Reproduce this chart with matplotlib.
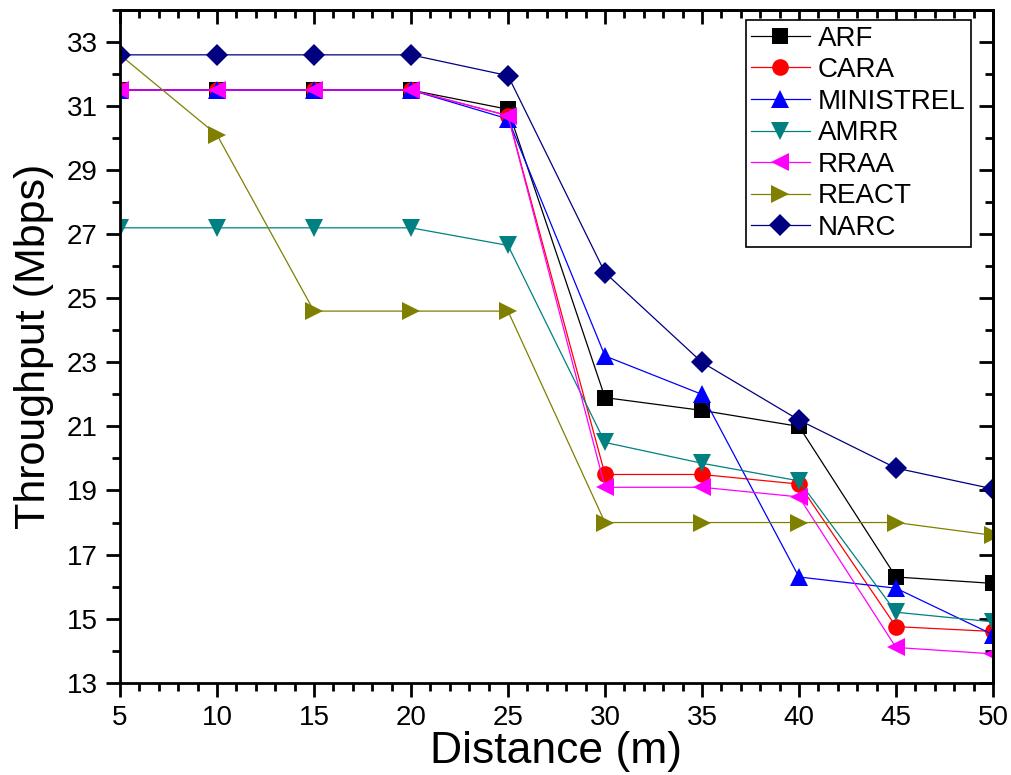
import matplotlib
matplotlib.use('Agg')
import matplotlib.pyplot as plt
from matplotlib.ticker import MultipleLocator

plt.rcParams['font.family'] = 'Liberation Sans'

# data
distance = [5, 10, 15, 20, 25, 30, 35, 40, 45, 50]
arf = [31.5, 31.5, 31.5, 31.5, 30.9, 21.9, 21.5, 21.0, 16.3, 16.1]
cara = [31.5, 31.5, 31.5, 31.5, 30.7, 19.5, 19.5, 19.2, 14.75, 14.6]
ministrel = [31.5, 31.5, 31.5, 31.5, 30.6, 23.2, 22.0, 16.3, 15.95, 14.5]
amrr = [27.2, 27.2, 27.2, 27.2, 26.65, 20.5, 19.85, 19.3, 15.2, 14.9]
rraa = [31.5, 31.5, 31.5, 31.5, 30.7, 19.1, 19.1, 18.8, 14.1, 13.9]
react = [32.6, 30.1, 24.6, 24.6, 24.6, 18.0, 18.0, 18.0, 18.0, 17.6]
narc = [32.6, 32.6, 32.6, 32.6, 31.95, 25.8, 23.0, 21.2, 19.7, 19.05]

fig = plt.figure(figsize=(10.12, 7.75), dpi=100)
ax = fig.add_axes([0.1186, 0.1191, 0.8626, 0.868])

series = [
    ('ARF', arf, 'black', 's', 11),
    ('CARA', cara, 'red', 'o', 12),
    ('MINISTREL', ministrel, 'blue', '^', 13),
    ('AMRR', amrr, '#008080', 'v', 13),
    ('RRAA', rraa, 'magenta', '<', 13),
    ('REACT', react, '#808000', '>', 13),
    ('NARC', narc, '#000080', 'D', 11),
]
for name, vals, col, mk, ms in series:
    ax.plot(distance, vals, color=col, marker=mk, markersize=ms,
            linewidth=0.9, label=name, markeredgewidth=0)

ax.set_xlim(5, 50)
ax.set_ylim(13, 34)
ax.xaxis.set_major_locator(MultipleLocator(5))
ax.xaxis.set_minor_locator(MultipleLocator(1))
ax.yaxis.set_minor_locator(MultipleLocator(1))
ax.set_yticks(range(13, 34, 2))

for s in ax.spines.values():
    s.set_linewidth(2)
ax.tick_params(which='major', direction='out', length=10, width=2,
               labelsize=20, pad=6)
ax.tick_params(which='minor', direction='out', length=6, width=2)

# inward ticks on top and right
top = ax.secondary_xaxis('top')
top.xaxis.set_major_locator(MultipleLocator(5))
top.xaxis.set_minor_locator(MultipleLocator(1))
top.tick_params(which='major', direction='in', length=10, width=2, labeltop=False)
top.tick_params(which='minor', direction='in', length=6, width=2)
right = ax.secondary_yaxis('right')
right.yaxis.set_minor_locator(MultipleLocator(1))
right.set_yticks(range(13, 34, 2))
right.tick_params(which='major', direction='in', length=10, width=2, labelright=False)
right.tick_params(which='minor', direction='in', length=6, width=2)
for sa in (top, right):
    for s in sa.spines.values():
        s.set_linewidth(2)

ax.set_xlabel('Distance (m)', fontsize=32, labelpad=0)
ax.set_ylabel('Throughput (Mbps)', fontsize=31, labelpad=9)

leg = ax.legend(loc='upper right', bbox_to_anchor=(0.975, 0.985), fontsize=20,
                frameon=True, fancybox=False, framealpha=1, edgecolor='black',
                handlelength=2.1, handletextpad=0.3, labelspacing=0.2,
                borderpad=0.2, borderaxespad=0, numpoints=1)
leg.get_frame().set_linewidth(1.2)

fig.savefig('out.png', dpi=100)
